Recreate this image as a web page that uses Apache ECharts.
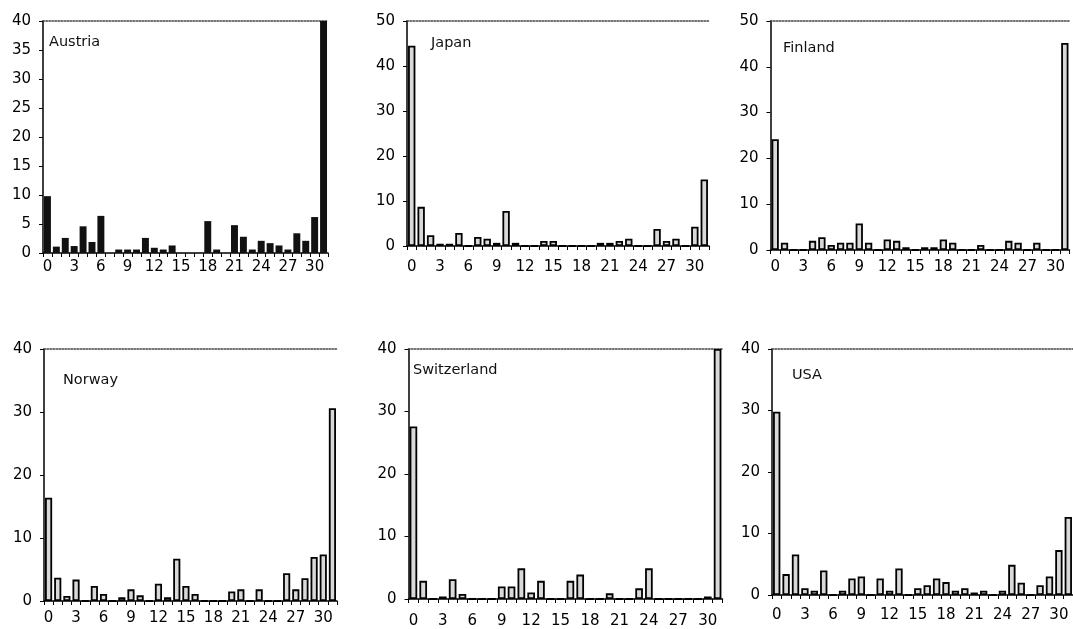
<!DOCTYPE html>
<html>
<head>
<meta charset="utf-8">
<script src="https://cdn.jsdelivr.net/npm/echarts@6/dist/echarts.min.js"></script>
<style>
  html, body { margin: 0; padding: 0; background: #fff; }
  #chart { width: 1073px; height: 629px; }
</style>
</head>
<body>
<div id="chart"></div>
<script>
// Number of days (0..31) on the x axis; 31 collects the open-ended class.
const categories = ['0','1','2','3','4','5','6','7','8','9','10','11','12','13','14','15',
                    '16','17','18','19','20','21','22','23','24','25','26','27','28','29','30','31'];

// Percentage of cases per category, by country.
const austria     = [9.8, 1.1, 2.6, 1.2, 4.6, 1.9, 6.4, 0, 0.6, 0.6, 0.6, 2.6, 0.9, 0.6, 1.3, 0,
                     0, 0, 5.5, 0.6, 0, 4.8, 2.8, 0.6, 2.1, 1.7, 1.3, 0.6, 3.4, 2.1, 6.2, 40];
const japan       = [44.5, 8.7, 2.4, 0.5, 0.5, 2.9, 0, 2.0, 1.6, 0.7, 7.8, 0.7, 0, 0, 1.1, 1.1,
                     0, 0, 0, 0, 0.7, 0.7, 1.1, 1.6, 0, 0, 3.8, 1.1, 1.6, 0, 4.3, 14.8];
const finland     = [24.2, 1.6, 0, 0, 2.0, 2.8, 1.1, 1.6, 1.6, 5.8, 1.6, 0, 2.3, 2.0, 0.6, 0,
                     0.6, 0.6, 2.3, 1.6, 0, 0, 1.1, 0, 0, 2.0, 1.6, 0, 1.6, 0, 0, 45.2];
const norway      = [16.4, 3.7, 0.8, 3.4, 0, 2.4, 1.1, 0, 0.6, 1.85, 0.9, 0, 2.75, 0.6, 6.7, 2.4,
                     1.1, 0, 0, 0, 1.5, 1.85, 0, 1.85, 0, 0, 4.4, 1.85, 3.6, 7.0, 7.4, 30.6];
const switzerland = [27.6, 2.9, 0, 0.4, 3.15, 0.8, 0, 0, 0, 2.0, 2.0, 4.9, 1.05, 2.9, 0, 0,
                     2.9, 3.9, 0, 0, 0.9, 0, 0, 1.7, 4.9, 0, 0, 0, 0, 0, 0.4, 40];
const usa         = [29.8, 3.4, 6.6, 1.1, 0.7, 4.0, 0, 0.7, 2.7, 3.0, 0, 2.7, 0.7, 4.3, 0, 1.1,
                     1.6, 2.7, 2.1, 0.7, 1.1, 0.4, 0.7, 0, 0.7, 4.9, 2.0, 0, 1.6, 3.0, 7.3, 12.7];

// Y-axis ranges (max, tick step) per panel.
const yMaxes  = [40, 50, 50, 40, 40, 40];
const ySteps  = [5, 10, 10, 10, 10, 10];
const names   = ['Austria', 'Japan', 'Finland', 'Norway', 'Switzerland', 'USA'];
const seriesData = [austria, japan, finland, norway, switzerland, usa];

// Panel frames (pixels), title anchors and x-label offsets.
const layout = [
  { left: 43,    top: 21,  width: 285, height: 232, tx: 49,  ty: 35,  xm: 7,  solid: true },
  { left: 407,   top: 21,  width: 302, height: 225, tx: 431, ty: 36,  xm: 14 },
  { left: 770.5, top: 21,  width: 299, height: 229, tx: 783, ty: 41,  xm: 10 },
  { left: 44,    top: 349, width: 293, height: 252, tx: 63,  ty: 373, xm: 10 },
  { left: 408.5, top: 349, width: 314, height: 254, tx: 413, ty: 363, xm: 15 },
  { left: 772,   top: 349, width: 301, height: 246, tx: 792, ty: 368, xm: 13 }
];

const FONT = 'DejaVu Sans';
const grids = [], xAxes = [], yAxes = [], series = [], titles = [];

layout.forEach((p, i) => {
  grids.push({ left: p.left, top: p.top, width: p.width, height: p.height, containLabel: false });

  // bottom category axis
  xAxes.push({
    type: 'category', gridIndex: i, data: categories, position: 'bottom',
    axisLine: { show: true, lineStyle: { color: '#000', width: 1.5 } },
    axisTick: { show: true, interval: 0, length: 4, lineStyle: { color: '#000', width: 1 } },
    axisLabel: { interval: 2, fontSize: 15, color: '#000', fontFamily: FONT, margin: p.xm },
    splitLine: { show: false }
  });

  yAxes.push({
    type: 'value', gridIndex: i, min: 0, max: yMaxes[i], interval: ySteps[i],
    axisLine: { show: true, lineStyle: { color: '#000', width: 1.5 } },
    axisTick: { show: true, length: 4, lineStyle: { color: '#000', width: 1 } },
    axisLabel: { fontSize: 15, color: '#000', fontFamily: FONT, margin: 12 },
    splitLine: { show: false }
  });

  series.push({
    type: 'bar', name: names[i], xAxisIndex: i, yAxisIndex: i,
    data: seriesData[i], barCategoryGap: '22%',
    itemStyle: p.solid
      ? { color: '#111', borderColor: '#000', borderWidth: 0 }
      : { color: '#d9d9d9', borderColor: '#000', borderWidth: 1.8 },
    emphasis: { disabled: true }
  });

  titles.push({
    text: names[i], left: p.tx, top: p.ty, padding: 0,
    textStyle: { fontSize: 14.5, fontWeight: 'normal', color: '#111', fontFamily: FONT }
  });
});

// top frame line of each panel, drawn as a bare axis
layout.forEach((p, i) => {
  xAxes.push({
    type: 'category', gridIndex: i, data: categories, position: 'top',
    axisLine: { show: true, lineStyle: { color: '#444', width: 1.5, type: 'dotted' } },
    axisTick: { show: false }, axisLabel: { show: false }, splitLine: { show: false }
  });
});

const chart = echarts.init(document.getElementById('chart'), null, { renderer: 'canvas' });
chart.setOption({
  animation: false,
  backgroundColor: '#fff',
  title: titles,
  grid: grids,
  xAxis: xAxes,
  yAxis: yAxes,
  series: series
});
</script>
</body>
</html>
